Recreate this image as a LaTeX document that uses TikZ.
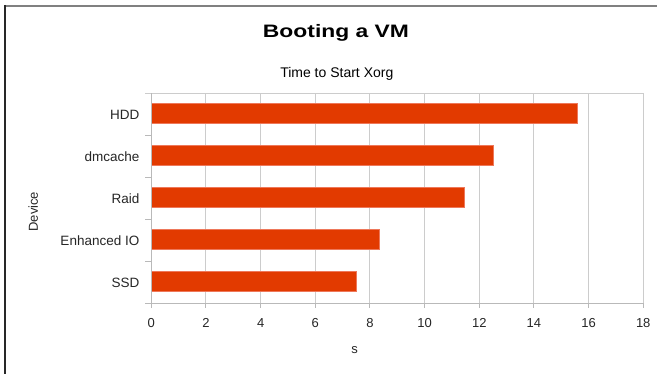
\documentclass[tikz,border=0pt]{standalone}
\usepackage{fontspec}
\setmainfont{Liberation Sans}
\definecolor{barc}{RGB}{226,58,0}
\definecolor{baredge}{RGB}{238,120,90}
\definecolor{gridc}{RGB}{204,204,204}
\definecolor{axisc}{RGB}{185,185,185}
\definecolor{topbord}{RGB}{128,128,128}
\definecolor{leftbord}{RGB}{40,40,40}
\begin{document}
\begin{tikzpicture}[x=1pt,y=-1pt,
  catlbl/.style={font=\fontsize{13.5}{16}\selectfont, inner sep=0pt, anchor=east, text=black!85},
  ticklbl/.style={font=\fontsize{13}{15}\selectfont, inner sep=0pt, text=black!85},
  gridline/.style={draw=gridc, line width=1pt},
  axisline/.style={draw=axisc, line width=1pt},
  barbox/.style={fill=barc, draw=baredge, line width=0.6pt}]
\useasboundingbox (0,0) rectangle (657,374);
\fill[white] (0,0) rectangle (657,374);
% frame
\draw[topbord, line width=1.7pt] (4,5.8) -- (657,5.8);
\draw[leftbord, line width=1.7pt] (4.8,5) -- (4.8,374);
% titles
\node[inner sep=0pt, font=\bfseries\fontsize{18}{21}\selectfont] (title) at (336,33.3) {\scalebox{1.27}[1]{Booting a VM}};
\node[inner sep=0pt, font=\fontsize{14}{17}\selectfont] (subtitle) at (336.8,73.5) {Time to Start Xorg};
% grid
\def\xz{151.3}
\def\xs{27.33}
\foreach \i in {2,4,...,18} {
  \draw[gridline] ({\xz+\i*\xs},93.3) -- ({\xz+\i*\xs},303.3);
}
\draw[gridline] (145,93.3) -- ({\xz+18*\xs},93.3);
% bars
\foreach \v [count=\k from 0] in {15.58,12.53,11.45,8.33,7.51} {
  \draw[barbox] (\xz,{103.5+42*\k}) rectangle ({\xz+\v*\xs},{123.5+42*\k});
}
% axes
\draw[axisline] (\xz,93.3) -- (\xz,303.3);
\draw[axisline] (145,303.3) -- ({\xz+18*\xs},303.3);
\foreach \k in {1,...,5} {
  \draw[axisline] (145,{93.3+42*\k}) -- (\xz,{93.3+42*\k});
}
\foreach \i in {0,2,...,18} {
  \draw[axisline] ({\xz+\i*\xs},303.3) -- ({\xz+\i*\xs},308.5);
  \node[ticklbl] (t\i) at ({\xz+\i*\xs},322.6) {\i};
}
% category labels
\node[catlbl] (hdd) at (139.5,114.5) {HDD};
\node[catlbl] (dmc) at (139.5,156.5) {dmcache};
\node[catlbl] (raid) at (139.5,198.5) {Raid};
\node[catlbl] (eio) at (139.5,240.5) {Enhanced IO};
\node[catlbl] (ssd) at (139.5,282.5) {SSD};
% axis titles
\node[ticklbl, font=\fontsize{13}{15}\selectfont, rotate=90] (ylab) at (33.3,211.7) {Device};
\node[ticklbl] (xlab) at (354.5,350) {s};
\end{tikzpicture}
\end{document}
